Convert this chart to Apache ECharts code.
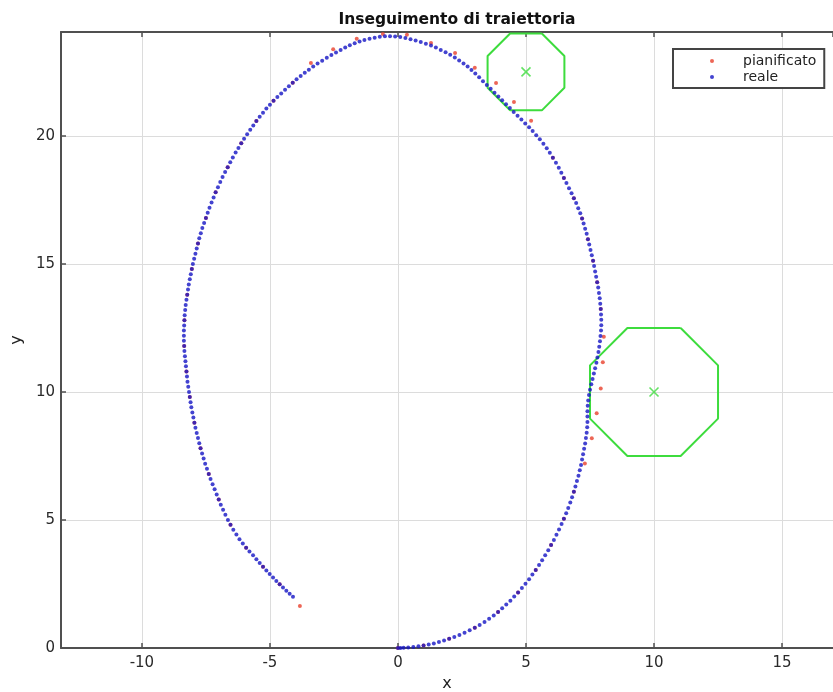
<!DOCTYPE html>
<html>
<head>
<meta charset="utf-8">
<script src="https://cdn.jsdelivr.net/npm/echarts@6/dist/echarts.min.js"></script>
<style>
html,body{margin:0;padding:0;background:#fff}
#chart{width:833px;height:692px}
</style>
</head>
<body>
<div id="chart"></div>
<script>
// visible window of the trajectory plot
const xRange = [-13.16, 16.99];
const yRange = [0, 24.06];

// legend labels
const seriesNames = ['pianificato', 'reale'];

// planned trajectory samples (x, y)
const plannedPath = [
  [0.00,0.00],[1.00,0.10],[2.00,0.36],[3.00,0.79],[3.91,1.41],[4.69,2.17],[5.38,3.05],[5.98,4.02],
  [6.48,5.05],[6.87,6.10],[7.30,7.21],[7.57,8.19],[7.76,9.17],[7.92,10.14],[8.00,11.16],[8.04,12.16],
  [7.92,13.24],[7.78,14.29],[7.62,15.13],[7.42,15.97],[7.19,16.78],[6.87,17.57],[6.48,18.36],[6.05,19.15],
  [5.20,20.59],[4.53,21.33],[3.83,22.07],[3.00,22.66],[2.23,23.24],[1.29,23.63],[0.35,23.95],[-0.59,23.98],
  [-1.61,23.80],[-2.53,23.39],[-3.40,22.85],[-4.11,22.08],[-4.86,21.37],[-5.53,20.58],[-6.12,19.71],[-6.65,18.78],
  [-7.12,17.80],[-7.50,16.80],[-7.81,15.80],[-8.05,14.80],[-8.23,13.80],[-8.34,12.80],[-8.35,11.80],[-8.26,10.80],
  [-8.13,9.80],[-7.95,8.80],[-7.71,7.80],[-7.39,6.80],[-7.00,5.80],[-6.54,4.81],[-5.93,3.92],[-5.27,3.17],
  [-4.62,2.49],[-3.83,1.64]
];

// measured trajectory samples (x, y)
const actualPath = [
  [0.00,0.00],[0.10,0.00],[0.22,0.01],[0.40,0.02],[0.60,0.04],[0.80,0.07],[1.00,0.10],[1.20,0.14],
  [1.40,0.18],[1.60,0.23],[1.80,0.29],[2.00,0.36],[2.20,0.43],[2.40,0.51],[2.60,0.60],[2.80,0.69],
  [3.00,0.79],[3.19,0.90],[3.38,1.02],[3.56,1.14],[3.74,1.27],[3.91,1.41],[4.07,1.55],[4.23,1.70],
  [4.39,1.85],[4.54,2.01],[4.69,2.17],[4.84,2.34],[4.98,2.51],[5.12,2.69],[5.25,2.87],[5.38,3.05],
  [5.51,3.24],[5.63,3.43],[5.75,3.62],[5.87,3.82],[5.98,4.02],[6.09,4.22],[6.19,4.42],[6.29,4.63],
  [6.39,4.84],[6.48,5.05],[6.57,5.26],[6.65,5.47],[6.73,5.68],[6.80,5.89],[6.87,6.10],[6.93,6.31],
  [6.99,6.52],[7.05,6.73],[7.10,6.94],[7.15,7.15],[7.19,7.36],[7.23,7.57],[7.27,7.78],[7.31,7.99],
  [7.34,8.20],[7.37,8.41],[7.39,8.62],[7.40,8.83],[7.40,9.04],[7.40,9.25],[7.41,9.46],[7.43,9.67],
  [7.46,9.88],[7.50,10.09],[7.55,10.30],[7.60,10.51],[7.65,10.72],[7.70,10.93],[7.75,11.14],[7.79,11.35],
  [7.83,11.56],[7.86,11.77],[7.89,11.98],[7.91,12.19],[7.93,12.40],[7.94,12.61],[7.94,12.82],[7.93,13.03],
  [7.92,13.24],[7.90,13.45],[7.88,13.66],[7.85,13.87],[7.82,14.08],[7.78,14.29],[7.74,14.50],[7.70,14.71],
  [7.66,14.92],[7.62,15.13],[7.57,15.34],[7.52,15.55],[7.47,15.76],[7.42,15.97],[7.37,16.18],[7.31,16.38],
  [7.25,16.58],[7.19,16.78],[7.12,16.98],[7.04,17.18],[6.96,17.38],[6.87,17.57],[6.78,17.76],[6.68,17.96],
  [6.58,18.16],[6.48,18.36],[6.38,18.56],[6.28,18.76],[6.17,18.95],[6.05,19.15],[5.93,19.34],[5.81,19.52],
  [5.68,19.70],[5.54,19.87],[5.40,20.03],[5.26,20.19],[5.12,20.34],[4.97,20.49],[4.82,20.64],[4.67,20.79],
  [4.52,20.94],[4.37,21.09],[4.22,21.24],[4.07,21.39],[3.92,21.54],[3.77,21.69],[3.62,21.84],[3.47,21.99],
  [3.32,22.14],[3.17,22.29],[3.02,22.44],[2.87,22.58],[2.72,22.71],[2.56,22.83],[2.39,22.95],[2.22,23.06],
  [2.04,23.17],[1.86,23.27],[1.67,23.36],[1.48,23.45],[1.29,23.53],[1.09,23.60],[0.89,23.67],[0.69,23.73],
  [0.49,23.78],[0.29,23.83],[0.09,23.86],[-0.11,23.88],[-0.31,23.89],[-0.51,23.89],[-0.71,23.87],[-0.91,23.84],
  [-1.11,23.80],[-1.31,23.75],[-1.50,23.69],[-1.69,23.62],[-1.88,23.54],[-2.06,23.45],[-2.24,23.36],[-2.42,23.26],
  [-2.60,23.16],[-2.78,23.05],[-2.96,22.94],[-3.14,22.83],[-3.31,22.71],[-3.48,22.59],[-3.64,22.47],[-3.80,22.34],
  [-3.96,22.21],[-4.11,22.08],[-4.26,21.94],[-4.41,21.80],[-4.56,21.66],[-4.71,21.52],[-4.86,21.37],[-5.00,21.22],
  [-5.14,21.07],[-5.27,20.91],[-5.40,20.75],[-5.53,20.58],[-5.65,20.41],[-5.77,20.24],[-5.89,20.07],[-6.01,19.89],
  [-6.12,19.71],[-6.23,19.53],[-6.34,19.35],[-6.45,19.16],[-6.55,18.97],[-6.65,18.78],[-6.75,18.59],[-6.85,18.40],
  [-6.94,18.20],[-7.03,18.00],[-7.12,17.80],[-7.20,17.60],[-7.28,17.40],[-7.36,17.20],[-7.43,17.00],[-7.50,16.80],
  [-7.57,16.60],[-7.64,16.40],[-7.70,16.20],[-7.76,16.00],[-7.81,15.80],[-7.86,15.60],[-7.91,15.40],[-7.96,15.20],
  [-8.01,15.00],[-8.05,14.80],[-8.09,14.60],[-8.13,14.40],[-8.17,14.20],[-8.20,14.00],[-8.23,13.80],[-8.26,13.60],
  [-8.29,13.40],[-8.31,13.20],[-8.33,13.00],[-8.34,12.80],[-8.35,12.60],[-8.36,12.40],[-8.36,12.20],[-8.36,12.00],
  [-8.35,11.80],[-8.34,11.60],[-8.32,11.40],[-8.30,11.20],[-8.28,11.00],[-8.26,10.80],[-8.24,10.60],[-8.22,10.40],
  [-8.19,10.20],[-8.16,10.00],[-8.13,9.80],[-8.10,9.60],[-8.07,9.40],[-8.03,9.20],[-7.99,9.00],[-7.95,8.80],
  [-7.91,8.60],[-7.86,8.40],[-7.81,8.20],[-7.76,8.00],[-7.71,7.80],[-7.65,7.60],[-7.59,7.40],[-7.53,7.20],
  [-7.46,7.00],[-7.39,6.80],[-7.32,6.60],[-7.24,6.40],[-7.16,6.20],[-7.08,6.00],[-7.00,5.80],[-6.92,5.60],
  [-6.83,5.40],[-6.74,5.20],[-6.64,5.00],[-6.54,4.81],[-6.43,4.62],[-6.31,4.43],[-6.19,4.25],[-6.06,4.08],
  [-5.93,3.92],[-5.80,3.77],[-5.66,3.62],[-5.53,3.47],[-5.40,3.32],[-5.27,3.17],[-5.14,3.03],[-5.01,2.89],
  [-4.88,2.75],[-4.75,2.62],[-4.62,2.49],[-4.49,2.36],[-4.36,2.24],[-4.23,2.12],[-4.10,2.00]
];

// octagonal obstacles: closed vertex lists
const obstacleA = [[5.62,24.00],[6.50,23.12],[6.50,21.88],[5.62,21.00],[4.38,21.00],[3.50,21.88],[3.50,23.12],[4.38,24.00],[5.62,24.00]];
const obstacleB = [[11.04,12.50],[12.50,11.04],[12.50,8.96],[11.04,7.50],[8.96,7.50],[7.50,8.96],[7.50,11.04],[8.96,12.50],[11.04,12.50]];
const obstacleCentres = [[5,22.5],[10,10]];

const FONT = 'DejaVu Sans';
const AXIS_COLOR = '#505050';
const GREEN = '#3ddc3d';

const chart = echarts.init(document.getElementById('chart'), null, {renderer: 'canvas'});

const baseX = {
  type: 'value', min: xRange[0], max: xRange[1], splitNumber: 6,
  axisLine: {show: true, onZero: false, lineStyle: {color: AXIS_COLOR, width: 2}},
  axisTick: {show: true, inside: true, length: 5, lineStyle: {color: AXIS_COLOR, width: 1.5}}
};

const option = {
  backgroundColor: '#ffffff',
  animation: false,
  title: {
    text: 'Inseguimento di traiettoria',
    left: 452, top: 7, textAlign: 'center',
    textStyle: {fontFamily: FONT, fontWeight: 'bold', fontSize: 15.5, color: '#111'}
  },
  legend: {
    data: seriesNames,
    orient: 'vertical',
    left: 673, top: 49,
    padding: [5, 8, 4, 37],
    itemGap: 2, itemWidth: 4, itemHeight: 4,
    borderColor: '#444', borderWidth: 2, borderRadius: 0,
    backgroundColor: '#fff',
    textStyle: {fontFamily: FONT, fontSize: 14, color: '#222', lineHeight: 14, padding: [0, 0, 0, 24]}
  },
  grid: {left: 61, right: 0, top: 32, bottom: 44, containLabel: false, outerBoundsMode: 'none'},
  xAxis: [
    Object.assign({}, baseX, {
      position: 'bottom',
      name: 'x', nameLocation: 'middle', nameGap: 25,
      nameTextStyle: {fontFamily: FONT, fontSize: 16, color: '#222'},
      axisLabel: {show: true, margin: 8, showMinLabel: false, showMaxLabel: false,
        fontFamily: FONT, fontSize: 15, color: '#2a2a2a'},
      splitLine: {show: true, lineStyle: {color: '#dcdcdc', width: 1}}
    }),
    Object.assign({}, baseX, {
      position: 'top',
      axisLabel: {show: false},
      splitLine: {show: false}
    })
  ],
  yAxis: {
    type: 'value', min: yRange[0], max: yRange[1], splitNumber: 5,
    name: 'y', nameLocation: 'middle', nameGap: 29, nameRotate: 90,
    nameTextStyle: {fontFamily: FONT, fontSize: 16, color: '#222'},
    axisLine: {show: true, onZero: false, lineStyle: {color: AXIS_COLOR, width: 2}},
    axisTick: {show: true, inside: true, length: 5, lineStyle: {color: AXIS_COLOR, width: 1.5}},
    axisLabel: {show: true, margin: 6, showMaxLabel: false,
      fontFamily: FONT, fontSize: 15, color: '#2a2a2a'},
    splitLine: {show: true, lineStyle: {color: '#dcdcdc', width: 1}}
  },
  series: [
    {
      name: 'ostacolo A', type: 'line', data: obstacleA, showSymbol: false, symbol: 'none',
      lineStyle: {color: GREEN, width: 2}, z: 2, silent: true
    },
    {
      name: 'ostacolo B', type: 'line', data: obstacleB, showSymbol: false, symbol: 'none',
      lineStyle: {color: GREEN, width: 2}, z: 2, silent: true
    },
    {
      name: 'centri', type: 'scatter', data: obstacleCentres,
      symbol: 'path://M0,0L10,10M10,0L0,10', symbolSize: 9,
      itemStyle: {color: 'none', borderColor: GREEN, borderWidth: 1.6}, z: 2, silent: true
    },
    {
      name: seriesNames[0], type: 'scatter', data: plannedPath,
      symbol: 'circle', symbolSize: 4,
      itemStyle: {color: '#e8402c'}, z: 3
    },
    {
      name: seriesNames[1], type: 'scatter', data: actualPath,
      symbol: 'circle', symbolSize: 4,
      itemStyle: {color: '#1414c4'}, z: 4
    }
  ]
};

chart.setOption(option);
</script>
</body>
</html>
